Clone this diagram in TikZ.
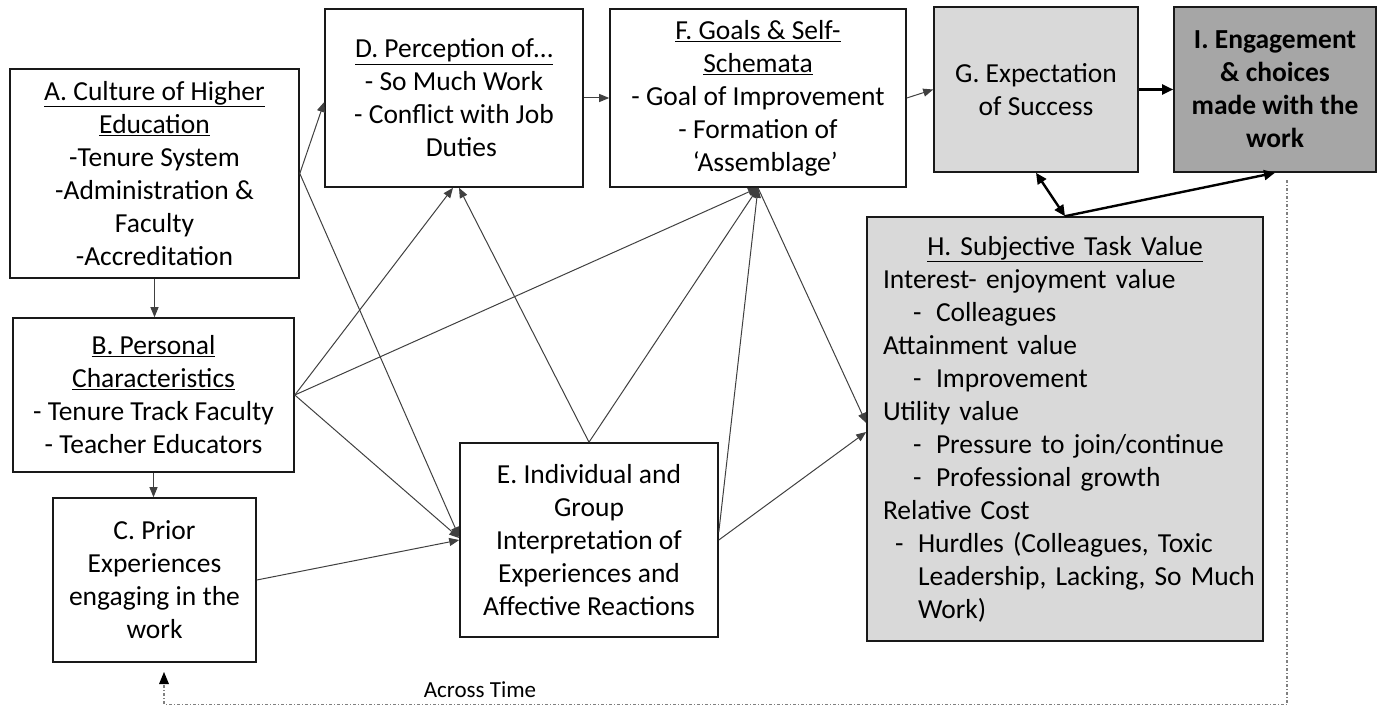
\documentclass[tikz,border=0pt]{standalone}
\usepackage{fontspec}
\setmainfont{Carlito}
\usetikzlibrary{arrows.meta,calc}
\begin{document}
\begin{tikzpicture}[x=1pt,y=-1pt,
  box/.style={draw=black!90, line width=1.6pt, inner sep=0pt, align=center,
    font=\fontsize{27.5pt}{33pt}\selectfont},
  light/.style={fill=black!15},
  dark/.style={fill=black!35},
  link/.style={draw=black!75, line width=1pt, -{Triangle[length=10pt,width=8pt]}},
  strong/.style={draw=black, line width=2.4pt, -{Triangle[length=11pt,width=10pt]}},
  twoway/.style={draw=black, line width=2.4pt, {Triangle[length=11pt,width=10pt]}-{Triangle[length=11pt,width=10pt]}},
  timeline/.style={draw=black!50, line width=1.2pt, dash pattern=on 3pt off 2pt on 1pt off 2pt}]
\useasboundingbox (0,0) rectangle (1378,706);

% boxes
\node[box, minimum width=289pt, minimum height=209pt] (A) at (154.5,173.5)
  {\underline{A. Culture of Higher}\\\underline{Education}\\-Tenure System\\-Administration \&\\Faculty\\-Accreditation};
\node[box, minimum width=281pt, minimum height=154pt] (B) at (153.5,395)
  {\underline{B. Personal}\\\underline{Characteristics}\\- Tenure Track Faculty\\- Teacher Educators};
\node[box, minimum width=203pt, minimum height=164pt] (C) at (154.5,580)
  {C. Prior\\Experiences\\engaging in the\\work};
\node[box, minimum width=258pt, minimum height=178pt] (D) at (454,98)
  {\underline{D. Perception of…}\\- So Much Work\\- Conflict with Job\\\phantom{- }Duties};
\node[box, minimum width=258pt, minimum height=194pt] (E) at (589,540)
  {E. Individual and\\Group\\Interpretation of\\Experiences and\\Affective Reactions};
\node[box, minimum width=296pt, minimum height=178pt] (F) at (758,98)
  {\underline{F. Goals \& Self-}\\\underline{Schemata}\\- Goal of Improvement\\- Formation of\\\phantom{- }‘Assemblage’};
\node[box, light, minimum width=204pt, minimum height=165pt] (G) at (1036,89.5)
  {G. Expectation\\of Success};
\node[box, dark, minimum width=202pt, minimum height=165pt, font=\fontsize{27.5pt}{33pt}\selectfont\bfseries] (I) at (1275,89.5)
  {I. Engagement\\\& choices\\made with the\\work};
\node[box, light, minimum width=396pt, minimum height=424pt, text width=380pt, align=left] (H) at (1065,429)
  {\makebox[380pt][c]{\underline{H. Subjective Task Value}}\\
   \hspace*{8pt}Interest- enjoyment value\\
   \hspace*{38pt}\makebox[23pt][l]{-}Colleagues\\
   \hspace*{8pt}Attainment value\\
   \hspace*{38pt}\makebox[23pt][l]{-}Improvement\\
   \hspace*{8pt}Utility value\\
   \hspace*{38pt}\makebox[23pt][l]{-}Pressure to join/continue\\
   \hspace*{38pt}\makebox[23pt][l]{-}Professional growth\\
   \hspace*{8pt}Relative Cost\\
   \hspace*{20pt}\makebox[23pt][l]{-}Hurdles (Colleagues, Toxic\\
   \hspace*{43pt}Leadership, Lacking, So Much\\
   \hspace*{43pt}Work)};

% time axis
\coordinate (tbl) at (164,704.5);
\coordinate (tbr) at (1287,704.5);
\coordinate (ttop) at (1287,180);
\coordinate (tarrow) at (164,672);
\draw[timeline] (ttop) -- (tbr) -- (tbl) -- (tarrow);
\fill[black] (tarrow) -- ++(-5,12) -- ++(10,0) -- cycle;
\node[font=\fontsize{23pt}{28pt}\selectfont, inner sep=0pt, anchor=base] (T) at (480,697) {Across Time};

% thin connectors
\draw[link] (A.south) -- (A.south |- B.north);
\draw[link] (B.south) -- (B.south |- C.north);
\draw[link] (A.east) -- ([yshift=-4pt]D.west);
\draw[link] (A.east) -- ([yshift=3pt]E.west);
\draw[link] (B.east) -- ([xshift=-1pt]D.south);
\draw[link] (B.east) -- (F.south);
\draw[link] (B.east) -- ([yshift=2pt]E.west);
\draw[link] (C.east) -- (E.west);
\draw[link] (E.north) -- ([xshift=5pt]D.south);
\draw[link] (E.north) -- (F.south);
\draw[link] ([yshift=8pt]E.east) -- (F.south);
\draw[link] (E.east) -- ([yshift=-3pt]H.west);
\draw[link] (F.south) -- ([yshift=6pt]H.west);
\draw[link] (D.east) -- (F.west);
\draw[link] (F.east) -- (G.west);

% thick connectors
\draw[strong] (G.east) -- (I.west);
\draw[twoway] (G.south) -- (H.north);
\draw[strong] (H.north) -- (I.south);
\end{tikzpicture}
\end{document}
